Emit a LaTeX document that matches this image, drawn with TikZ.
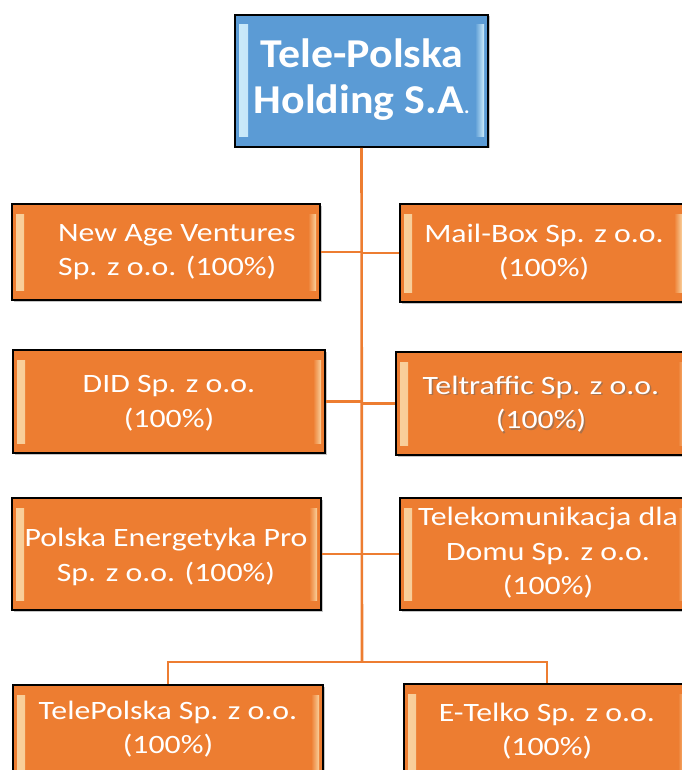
\documentclass[tikz,border=0pt]{standalone}
\usepackage{fontspec}
\setmainfont{Carlito}[FakeStretch=1.2]
\newfontfamily\titlefont{Carlito}[FakeStretch=1.07]
\usetikzlibrary{shadows}
\definecolor{orangeC}{HTML}{ED7D31}
\definecolor{blueC}{HTML}{5B9BD5}
\definecolor{lineC}{HTML}{ED7D31}
\definecolor{bevelO}{HTML}{FCE0B0}
\definecolor{bevelB}{HTML}{D8F4FF}
\begin{document}
\begin{tikzpicture}[x=1pt,y=-1pt,
  basebox/.style={rectangle, draw=black, line width=1.6pt, inner sep=0pt,
    drop shadow={opacity=0.45, shadow xshift=1.5pt, shadow yshift=-1.5pt}},
  orgbox/.style={basebox, fill=orangeC,
    path picture={
      \fill[left color=bevelO, right color=orangeC, fill opacity=0.85]
        ([xshift=4pt,yshift=-10pt]path picture bounding box.north west) rectangle
        ([xshift=12pt,yshift=10pt]path picture bounding box.south west);
      \fill[right color=bevelO, left color=orangeC, fill opacity=0.85]
        ([xshift=-12pt,yshift=-10pt]path picture bounding box.north east) rectangle
        ([xshift=-4pt,yshift=10pt]path picture bounding box.south east);
    }},
  bluebox/.style={basebox, fill=blueC,
    path picture={
      \fill[left color=bevelB, right color=blueC, fill opacity=0.9]
        ([xshift=4pt,yshift=-10pt]path picture bounding box.north west) rectangle
        ([xshift=13pt,yshift=10pt]path picture bounding box.south west);
      \fill[right color=bevelB, left color=blueC, fill opacity=0.9]
        ([xshift=-13pt,yshift=-10pt]path picture bounding box.north east) rectangle
        ([xshift=-4pt,yshift=10pt]path picture bounding box.south east);
    }},
  txt/.style={text=white, align=center, inner sep=0pt,
    font=\fontsize{26.5}{34.5}\selectfont},
  conn/.style={draw=lineC, line width=2.6pt}
]
\useasboundingbox (0,0) rectangle (681,770);

\node[bluebox, minimum width=253pt, minimum height=132pt] (top) at (361.5,81) {};
\coordinate (bj) at (362,662);

\node[orgbox, minimum width=308pt, minimum height=96pt] (nav) at (166,252) {};
\node[orgbox, minimum width=286pt, minimum height=98pt] (mb) at (543,253) {};
\node[orgbox, minimum width=312pt, minimum height=103pt] (did) at (169,401.5) {};
\node[orgbox, minimum width=294pt, minimum height=103pt] (tt) at (543,403.5) {};
\node[orgbox, minimum width=309pt, minimum height=112pt] (pe) at (166.5,554) {};
\node[orgbox, minimum width=290pt, minimum height=112pt] (tk) at (545,554) {};
\node[orgbox, minimum width=310pt, minimum height=100pt] (tp) at (168,735) {};
\node[orgbox, minimum width=286pt, minimum height=100pt] (et) at (547,734) {};

\draw[conn] (top.south) -- (bj);
\draw[conn] (nav.east) -- (nav.east -| top.south);
\draw[conn] (mb.west) -- (mb.west -| top.south);
\draw[conn] (did.east) -- (did.east -| top.south);
\draw[conn] (tt.west) -- (tt.west -| top.south);
\draw[conn] (pe.east) -- (pe.east -| top.south);
\draw[conn] (tk.west) -- (tk.west -| top.south);
\draw[conn] (tp.north) |- (bj) -| (et.north);

% texts
\node[txt, font=\titlefont\bfseries\fontsize{41}{46}\selectfont] (ttop) at (362,80)
  {Tele-Polska\\Holding S.A{\mdseries\fontsize{24}{24}\selectfont.}};
\node[txt, align=left, anchor=west] (tnav) at (58,252) {New Age Ventures\\Sp. z o.o. (100\%)};
\node[txt] (tmb) at (544,252) {Mail-Box Sp. z o.o.\\(100\%)};
\node[txt] (tdid) at (169,403) {DID Sp. z o.o.\\(100\%)};
\node[txt, text=black!60, opacity=0.5] (tttsh) at (542.5,405.5) {Teltraffic Sp. z o.o.\\(100\%)};
\node[txt] (ttt) at (541,404) {Teltraffic Sp. z o.o.\\(100\%)};
\node[txt] (tpe) at (166,557) {Polska Energetyka Pro\\Sp. z o.o. (100\%)};
\node[txt] (ttk) at (548,553) {Telekomunikacja dla\\Domu Sp. z o.o.\\(100\%)};
\node[txt] (ttp) at (168,729) {TelePolska Sp. z o.o.\\(100\%)};
\node[txt] (tet) at (547,731) {E-Telko Sp. z o.o.\\(100\%)};
\end{tikzpicture}
\end{document}
